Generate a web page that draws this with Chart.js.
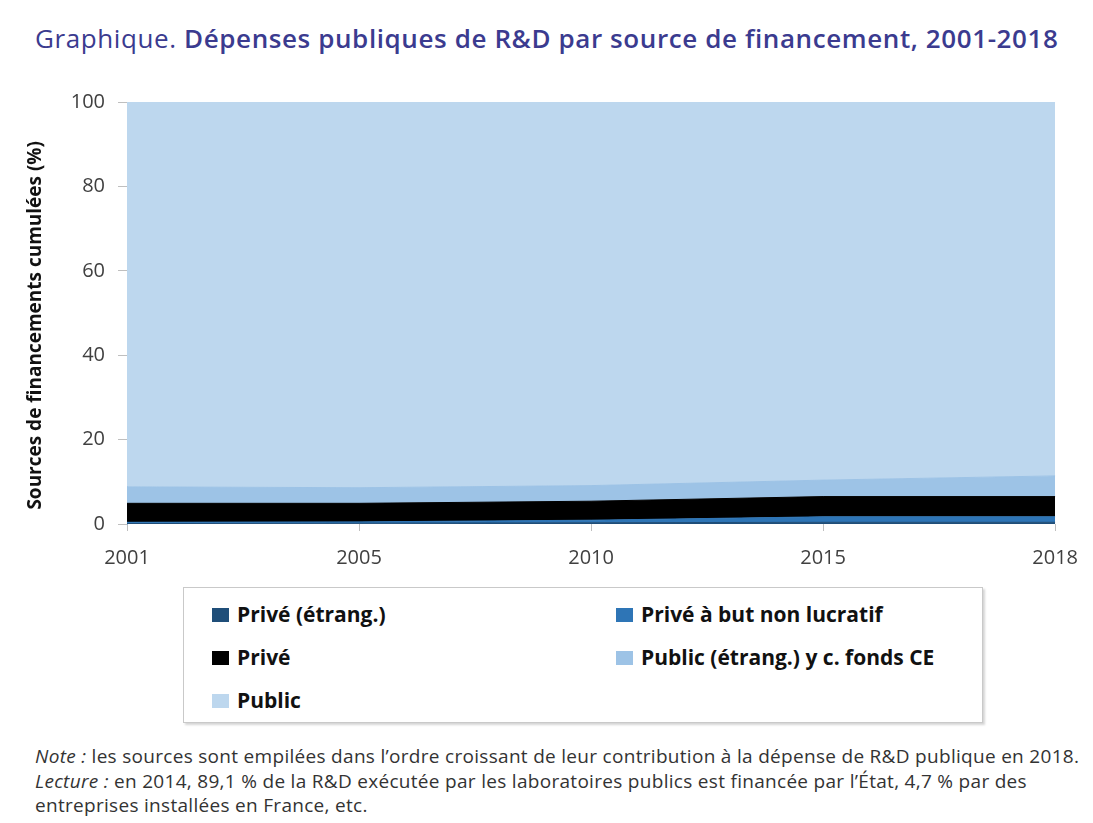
<!DOCTYPE html>
<html lang="fr">
<head>
<meta charset="utf-8">
<title>Dépenses publiques de R&amp;D par source de financement, 2001-2018</title>
<script src="https://cdn.jsdelivr.net/npm/chart.js@4.4.1/dist/chart.umd.min.js"></script>
<style>
  html, body { margin: 0; padding: 0; background: #fff; }
  body { width: 1093px; height: 823px; position: relative; overflow: hidden; font-family: 'Open Sans', sans-serif; }
  #title { position: absolute; left: 35px; top: 20px; font-size: 26px; letter-spacing: 0.6px; color: #3b3b8f; white-space: nowrap; }
  #title b { font-weight: 600; }
  #chart-wrap { position: absolute; left: 0; top: 77px; width: 1093px; height: 503px; }
  #legend { position: absolute; left: 183px; top: 587px; width: 800px; height: 136px; box-sizing: border-box;
            border: 1px solid #c9c9c9; box-shadow: 2px 2px 2px #d6d6d6; }
  .item { position: absolute; font-weight: 700; font-size: 21px; color: #111; white-space: nowrap; line-height: 24px; }
  .sw { display: inline-block; width: 17px; height: 14px; margin-right: 8px; vertical-align: 0; }
  #note { position: absolute; left: 35px; top: 744px; font-size: 19px; letter-spacing: 0.3px; line-height: 24.5px; color: #333; white-space: nowrap; }
</style>
</head>
<body>
<div id="title">Graphique. <b>Dépenses publiques de R&amp;D par source de financement, 2001-2018</b></div>
<div id="chart-wrap"><canvas id="chart"></canvas></div>
<div id="legend"></div>
<div id="note">
  <i>Note :</i> les sources sont empilées dans l’ordre croissant de leur contribution à la dépense de R&amp;D publique en 2018.<br>
  <i>Lecture :</i> en 2014, 89,1 % de la R&amp;D exécutée par les laboratoires publics est financée par l’État, 4,7 % par des<br>
  entreprises installées en France, etc.
</div>
<script>
// Années (axe des x)
const years = ['2001', '2005', '2010', '2015', '2018'];

// Parts de chaque source (%), empilées dans cet ordre
const priveEtranger = [0.1, 0.2, 0.3, 0.4, 0.4];
const priveNonLucratif = [0.3, 0.3, 0.6, 1.3, 1.3];
const prive = [4.5, 4.4, 4.5, 4.8, 4.8];
const publicEtranger = [3.9, 3.7, 3.7, 3.9, 4.9];
const publicEtat = [91.2, 91.4, 90.9, 89.6, 88.6];

const yTicks = [0, 20, 40, 60, 80, 100];

const seriesLabels = ['Privé (étrang.)', 'Privé à but non lucratif', 'Privé',
                      'Public (étrang.) y c. fonds CE', 'Public'];
const seriesColors = ['#1f4e79', '#2e75b6', '#000000', '#9dc3e6', '#bdd7ee'];
const seriesData = [priveEtranger, priveNonLucratif, prive, publicEtranger, publicEtat];

const tickColor = '#404040';
const tickFont = { family: "'Open Sans', sans-serif", size: 20 };

new Chart(document.getElementById('chart'), {
  type: 'line',
  data: {
    labels: years,
    datasets: seriesData.map((d, i) => ({
      label: seriesLabels[i],
      data: d,
      backgroundColor: seriesColors[i],
      borderColor: seriesColors[i],
      borderWidth: 1,
      pointRadius: 0,
      tension: 0,
      fill: i === 0 ? 'origin' : '-1'
    }))
  },
  options: {
    responsive: true,
    maintainAspectRatio: false,
    animation: false,
    layout: { padding: { left: 20, right: 30, top: 18, bottom: 0 } },
    plugins: {
      legend: { display: false },
      tooltip: { enabled: false }
    },
    scales: {
      x: {
        type: 'category',
        offset: false,
        grid: { display: true, drawOnChartArea: false, tickLength: 7, color: '#bfbfbf' },
        border: { display: false },
        ticks: { color: tickColor, font: tickFont, padding: 15, maxRotation: 0, autoSkip: false },
        afterFit: scale => { scale.height = 56; }
      },
      y: {
        stacked: true,
        min: 0,
        max: 100,
        afterBuildTicks: scale => { scale.ticks = yTicks.map(v => ({ value: v })); },
        grid: { display: true, drawOnChartArea: false, tickLength: 9, color: '#bfbfbf' },
        border: { display: true, color: '#8fb6df', width: 1 },
        ticks: { color: tickColor, font: tickFont, padding: 13 },
        title: {
          display: true,
          // espaces insécables en fin de texte : le titre est centré un peu plus bas
          text: 'Sources de financements cumulées (%)\u00a0\u00a0\u00a0\u00a0\u00a0',
          color: '#111',
          font: { family: "'Open Sans', sans-serif", size: 19, weight: '700' },
          padding: { top: 4, bottom: 0 }
        },
        afterFit: scale => { scale.width = 107; }
      }
    }
  }
});

// Légende sur deux colonnes, construite à partir des mêmes tableaux
const legendEl = document.getElementById('legend');
seriesLabels.forEach((label, i) => {
  const item = document.createElement('div');
  item.className = 'item';
  item.style.left = (i % 2 === 0 ? 28 : 432) + 'px';
  item.style.top = (14 + Math.floor(i / 2) * 43) + 'px';
  item.innerHTML = '<span class="sw" style="background:' + seriesColors[i] + '"></span>' + label;
  legendEl.appendChild(item);
});
</script>
</body>
</html>
